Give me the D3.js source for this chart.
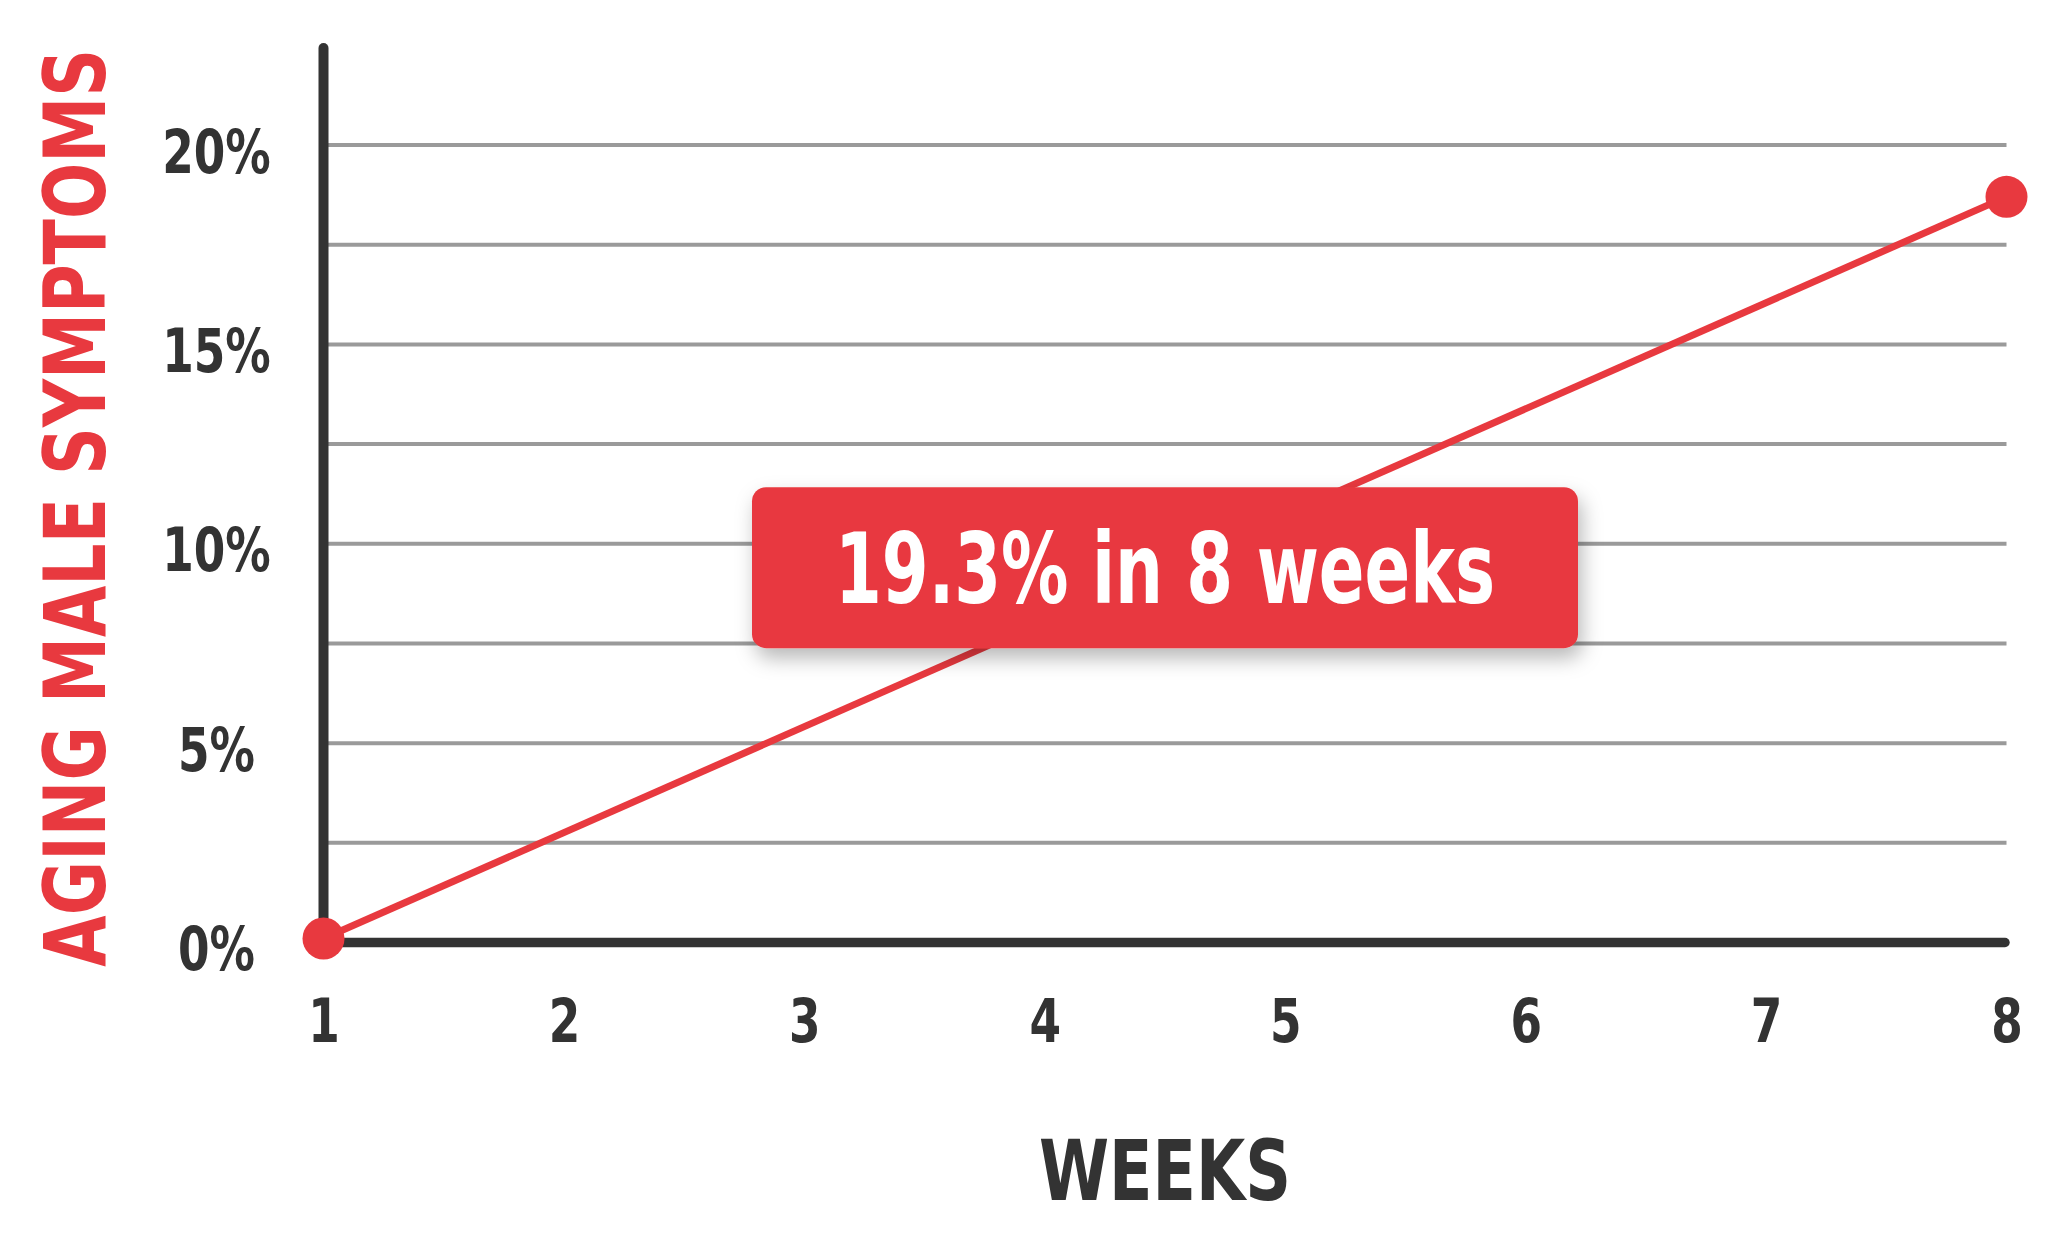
<!DOCTYPE html>
<html>
<head>
<meta charset="utf-8">
<script src="https://cdn.jsdelivr.net/npm/d3@7"></script>
<style>
  html, body { margin: 0; padding: 0; background: #ffffff; }
  svg { display: block; }
  .lbl { font-family: "Liberation Sans Narrow", "DejaVu Sans Condensed", "Arial Narrow", sans-serif; font-weight: 700; font-stretch: condensed; }
</style>
</head>
<body>
<svg id="chart" width="2064" height="1240"></svg>
<script>
// ---- data ----
const weeks = [1, 2, 3, 4, 5, 6, 7, 8];
const seriesWeeks = [1, 8];
const seriesValues = [0.1, 18.7];
const yTickValues = [0, 5, 10, 15, 20];
const yTickLabels = ["0%", "5%", "10%", "15%", "20%"];
const gridValues = [2.5, 5, 7.5, 10, 12.5, 15, 17.5, 20];
const yTitle = "AGING MALE SYMPTOMS";
const xTitle = "WEEKS";
const callout = "19.3% in 8 weeks";

// ---- style ----
const RED = "#e8393f";
const DARK = "#333333";
const GRID = "#9a9a9a";
const TICK_SQUEEZE = 0.84;

const svg = d3.select("#chart");
const x = d3.scaleLinear().domain([1, 8]).range([323.5, 2006.5]);
const y = d3.scaleLinear().domain([0, 20]).range([942.5, 145]);

// defs: shadow
const defs = svg.append("defs");
const f = defs.append("filter").attr("id", "shadow").attr("x", "-10%").attr("y", "-20%").attr("width", "120%").attr("height", "160%");
f.append("feDropShadow").attr("dx", 4).attr("dy", 10).attr("stdDeviation", 10)
  .attr("flood-color", "#000").attr("flood-opacity", 0.28);

// gridlines
svg.append("g").selectAll("line").data(gridValues).join("line")
  .attr("x1", x(1)).attr("x2", x(8))
  .attr("y1", d => y(d)).attr("y2", d => y(d))
  .attr("stroke", GRID).attr("stroke-width", 4);

// axes lines
svg.append("line")
  .attr("x1", x(1)).attr("x2", x(8) - 1.5)
  .attr("y1", y(0)).attr("y2", y(0))
  .attr("stroke", DARK).attr("stroke-width", 9.5).attr("stroke-linecap", "round");
svg.append("line")
  .attr("x1", x(1)).attr("x2", x(1))
  .attr("y1", y(0)).attr("y2", y(20) - 97)
  .attr("stroke", DARK).attr("stroke-width", 10).attr("stroke-linecap", "round");

function squeeze(sel) {
  sel.each(function () {
    const w = this.getComputedTextLength();
    d3.select(this).attr("textLength", w * TICK_SQUEEZE).attr("lengthAdjust", "spacingAndGlyphs");
  });
}

// x tick labels via axis
const xAxis = d3.axisBottom(x).tickValues(weeks).tickSize(0).tickFormat(d3.format("d"));
const gx = svg.append("g").attr("transform", `translate(0,${y(0)})`).call(xAxis);
gx.select(".domain").remove();
gx.selectAll("text")
  .attr("class", "lbl").attr("fill", DARK).attr("font-size", 60)
  .attr("dy", null).attr("y", 99.5).call(squeeze);

// y tick labels via axis
const yAxis = d3.axisLeft(y).tickValues(yTickValues).tickSize(0)
  .tickFormat((d, i) => yTickLabels[i]);
const gy = svg.append("g").attr("transform", `translate(${x(1) - 107},0)`).call(yAxis);
gy.select(".domain").remove();
gy.selectAll("text")
  .attr("class", "lbl").attr("fill", DARK).attr("font-size", 60)
  .attr("text-anchor", "middle").attr("x", 0).attr("dy", null).attr("y", 27).call(squeeze);

// line
const line = d3.line().x(d => x(d[0])).y(d => y(d[1]));
const pts = seriesWeeks.map((w, i) => [w, seriesValues[i]]);
svg.append("path").datum(pts).attr("d", line)
  .attr("fill", "none").attr("stroke", RED).attr("stroke-width", 7);
svg.append("g").selectAll("circle").data(pts).join("circle")
  .attr("cx", d => x(d[0])).attr("cy", d => y(d[1])).attr("r", 21).attr("fill", RED);

// callout box
const cx = x(4.5), cy = y(9.4);
const bw = 826, bh = 161;
svg.append("rect")
  .attr("x", cx - bw / 2).attr("y", cy - bh / 2).attr("width", bw).attr("height", bh)
  .attr("rx", 14).attr("ry", 14).attr("fill", RED).attr("filter", "url(#shadow)");
svg.append("text").attr("class", "lbl")
  .attr("x", cx).attr("y", cy + 35.5).attr("text-anchor", "middle")
  .attr("font-size", 98).attr("fill", "#ffffff")
  .attr("textLength", 660).attr("lengthAdjust", "spacingAndGlyphs")
  .text(callout);

// y title: natural text, scaled along its length to fit
const yt = svg.append("text").attr("class", "lbl")
  .attr("text-anchor", "middle").attr("font-size", 86).attr("fill", RED)
  .text(yTitle);
const ytLen = yt.node().getComputedTextLength();
yt.attr("transform", `translate(105,${(y(0) + y(20)) / 2 - 36}) rotate(-90) scale(${918 / ytLen},1)`);

svg.append("text").attr("class", "lbl")
  .attr("x", cx).attr("y", 1200).attr("text-anchor", "middle")
  .attr("font-size", 84).attr("fill", DARK)
  .attr("textLength", 252).attr("lengthAdjust", "spacingAndGlyphs")
  .text(xTitle);
</script>
</body>
</html>
